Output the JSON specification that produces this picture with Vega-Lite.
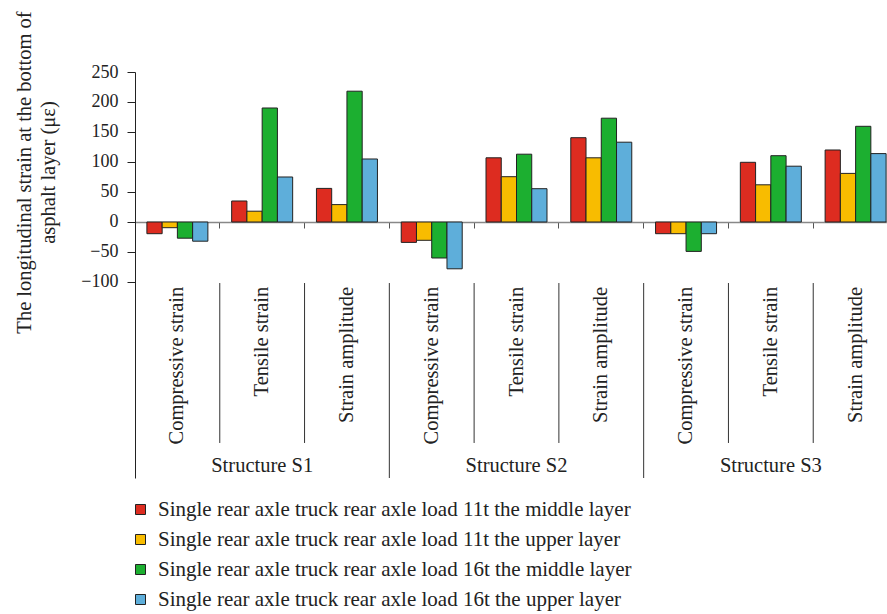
{
  "$schema": "https://vega.github.io/schema/vega-lite/v6.json",
  "autosize": {"type": "none"},
  "width": 752,
  "height": 406,
  "padding": {"left": 135, "top": 72, "right": 0, "bottom": 136},
  "config": {
    "view": {"stroke": null},
    "font": "Liberation Serif",
    "axis": {"grid": false}
  },
  "datasets": {
    "bars": [
      {"key": "S1|Compressive strain", "series": "Single rear axle truck rear axle load 11t the middle layer", "value": -19.5},
      {"key": "S1|Compressive strain", "series": "Single rear axle truck rear axle load 11t the upper layer", "value": -9.5},
      {"key": "S1|Compressive strain", "series": "Single rear axle truck rear axle load 16t the middle layer", "value": -27},
      {"key": "S1|Compressive strain", "series": "Single rear axle truck rear axle load 16t the upper layer", "value": -32},
      {"key": "S1|Tensile strain", "series": "Single rear axle truck rear axle load 11t the middle layer", "value": 35},
      {"key": "S1|Tensile strain", "series": "Single rear axle truck rear axle load 11t the upper layer", "value": 18},
      {"key": "S1|Tensile strain", "series": "Single rear axle truck rear axle load 16t the middle layer", "value": 190},
      {"key": "S1|Tensile strain", "series": "Single rear axle truck rear axle load 16t the upper layer", "value": 75},
      {"key": "S1|Strain amplitude", "series": "Single rear axle truck rear axle load 11t the middle layer", "value": 56},
      {"key": "S1|Strain amplitude", "series": "Single rear axle truck rear axle load 11t the upper layer", "value": 29},
      {"key": "S1|Strain amplitude", "series": "Single rear axle truck rear axle load 16t the middle layer", "value": 218},
      {"key": "S1|Strain amplitude", "series": "Single rear axle truck rear axle load 16t the upper layer", "value": 105},
      {"key": "S2|Compressive strain", "series": "Single rear axle truck rear axle load 11t the middle layer", "value": -34},
      {"key": "S2|Compressive strain", "series": "Single rear axle truck rear axle load 11t the upper layer", "value": -30.5},
      {"key": "S2|Compressive strain", "series": "Single rear axle truck rear axle load 16t the middle layer", "value": -60},
      {"key": "S2|Compressive strain", "series": "Single rear axle truck rear axle load 16t the upper layer", "value": -78},
      {"key": "S2|Tensile strain", "series": "Single rear axle truck rear axle load 11t the middle layer", "value": 107},
      {"key": "S2|Tensile strain", "series": "Single rear axle truck rear axle load 11t the upper layer", "value": 75.5},
      {"key": "S2|Tensile strain", "series": "Single rear axle truck rear axle load 16t the middle layer", "value": 113},
      {"key": "S2|Tensile strain", "series": "Single rear axle truck rear axle load 16t the upper layer", "value": 55.5},
      {"key": "S2|Strain amplitude", "series": "Single rear axle truck rear axle load 11t the middle layer", "value": 140.5},
      {"key": "S2|Strain amplitude", "series": "Single rear axle truck rear axle load 11t the upper layer", "value": 107},
      {"key": "S2|Strain amplitude", "series": "Single rear axle truck rear axle load 16t the middle layer", "value": 173},
      {"key": "S2|Strain amplitude", "series": "Single rear axle truck rear axle load 16t the upper layer", "value": 133},
      {"key": "S3|Compressive strain", "series": "Single rear axle truck rear axle load 11t the middle layer", "value": -19.5},
      {"key": "S3|Compressive strain", "series": "Single rear axle truck rear axle load 11t the upper layer", "value": -19.5},
      {"key": "S3|Compressive strain", "series": "Single rear axle truck rear axle load 16t the middle layer", "value": -49},
      {"key": "S3|Compressive strain", "series": "Single rear axle truck rear axle load 16t the upper layer", "value": -19.5},
      {"key": "S3|Tensile strain", "series": "Single rear axle truck rear axle load 11t the middle layer", "value": 99.5},
      {"key": "S3|Tensile strain", "series": "Single rear axle truck rear axle load 11t the upper layer", "value": 62},
      {"key": "S3|Tensile strain", "series": "Single rear axle truck rear axle load 16t the middle layer", "value": 110.5},
      {"key": "S3|Tensile strain", "series": "Single rear axle truck rear axle load 16t the upper layer", "value": 93},
      {"key": "S3|Strain amplitude", "series": "Single rear axle truck rear axle load 11t the middle layer", "value": 120},
      {"key": "S3|Strain amplitude", "series": "Single rear axle truck rear axle load 11t the upper layer", "value": 81},
      {"key": "S3|Strain amplitude", "series": "Single rear axle truck rear axle load 16t the middle layer", "value": 159.5},
      {"key": "S3|Strain amplitude", "series": "Single rear axle truck rear axle load 16t the upper layer", "value": 114}
    ],
    "cats": [
      {"key": "S1|Compressive strain", "category": "Compressive strain", "structure": "Structure S1"},
      {"key": "S1|Tensile strain", "category": "Tensile strain", "structure": "Structure S1"},
      {"key": "S1|Strain amplitude", "category": "Strain amplitude", "structure": "Structure S1"},
      {"key": "S2|Compressive strain", "category": "Compressive strain", "structure": "Structure S2"},
      {"key": "S2|Tensile strain", "category": "Tensile strain", "structure": "Structure S2"},
      {"key": "S2|Strain amplitude", "category": "Strain amplitude", "structure": "Structure S2"},
      {"key": "S3|Compressive strain", "category": "Compressive strain", "structure": "Structure S3"},
      {"key": "S3|Tensile strain", "category": "Tensile strain", "structure": "Structure S3"},
      {"key": "S3|Strain amplitude", "category": "Strain amplitude", "structure": "Structure S3"}
    ]
  },
  "layer": [
    {
      "data": {"name": "bars"},
      "mark": {"type": "bar", "stroke": "#222222", "strokeWidth": 1},
      "encoding": {
        "x": {
          "field": "key", "type": "nominal",
          "scale": {
            "domain": ["S1|Compressive strain", "S1|Tensile strain", "S1|Strain amplitude", "S2|Compressive strain", "S2|Tensile strain", "S2|Strain amplitude", "S3|Compressive strain", "S3|Tensile strain", "S3|Strain amplitude"],
            "range": [0, 763],
            "paddingInner": 0, "paddingOuter": 0
          },
          "axis": {
            "title": null, "labels": false, "orient": "bottom", "offset": -256,
            "bandPosition": 0, "tickSize": 6, "tickColor": "#555555", "domainColor": "#888888", "domainWidth": 1.5
          }
        },
        "xOffset": {
          "field": "series", "type": "nominal",
          "scale": {"paddingInner": 0, "paddingOuter": 0.78}
        },
        "y": {
          "field": "value", "type": "quantitative",
          "scale": {"domain": [-426.67, 250], "nice": false, "zero": false},
          "axis": {
            "values": [-100, -50, 0, 50, 100, 150, 200, 250],
            "title": ["The longitudinal strain at the bottom of", "asphalt layer (\u03bc\u03b5)"],
            "titleFont": "Liberation Serif", "titleFontSize": 20.5, "titleFontWeight": "normal",
            "titleColor": "#222222",
            "titleAngle": 270, "titleAlign": "center", "titleBaseline": "alphabetic",
            "titleX": -105, "titleY": 100, "titleLineHeight": 24,
            "labelFont": "Liberation Serif", "labelFontSize": 18, "labelColor": "#222222",
            "labelPadding": 9, "tickSize": 8, "tickColor": "#222222",
            "domainColor": "#222222", "domainWidth": 1
          }
        },
        "color": {
          "field": "series", "type": "nominal",
          "scale": {
            "domain": ["Single rear axle truck rear axle load 11t the middle layer", "Single rear axle truck rear axle load 11t the upper layer", "Single rear axle truck rear axle load 16t the middle layer", "Single rear axle truck rear axle load 16t the upper layer"],
            "range": ["#DD2C20", "#F8BC00", "#1CAF30", "#5EAEDA"]
          },
          "legend": {
            "title": null, "orient": "none", "legendX": -5, "legendY": 427,
            "padding": 0, "symbolType": "square", "symbolSize": 100,
            "symbolStrokeColor": "#222222", "symbolStrokeWidth": 1, "symbolOpacity": 1,
            "labelFont": "Liberation Serif", "labelFontSize": 21, "labelColor": "#222222",
            "labelOffset": 7, "rowPadding": 8, "labelLimit": 0
          }
        }
      }
    },
    {
      "data": {"name": "cats"},
      "mark": {"type": "text", "angle": 270, "align": "right", "baseline": "middle", "fontSize": 20.5, "color": "#222222", "font": "Liberation Serif"},
      "encoding": {
        "x": {"field": "key", "type": "nominal"},
        "y": {"datum": -108},
        "text": {"field": "category"}
      }
    },
    {
      "data": {"name": "cats"},
      "transform": [{"filter": "datum.category === 'Tensile strain'"}],
      "mark": {"type": "text", "align": "center", "baseline": "middle", "fontSize": 20.5, "color": "#222222", "font": "Liberation Serif"},
      "encoding": {
        "x": {"field": "key", "type": "nominal"},
        "y": {"datum": -406.7},
        "text": {"field": "structure"}
      }
    },
    {
      "data": {"name": "cats"},
      "transform": [{"filter": "datum.category !== 'Compressive strain'"}],
      "mark": {"type": "rule", "color": "#333333", "strokeWidth": 1},
      "encoding": {
        "x": {"field": "key", "type": "nominal", "bandPosition": 0},
        "y": {"datum": -101.7},
        "y2": {"datum": -368.3}
      }
    },
    {
      "data": {"name": "cats"},
      "transform": [{"filter": "datum.category === 'Compressive strain' && datum.structure !== 'Structure S1'"}],
      "mark": {"type": "rule", "color": "#333333", "strokeWidth": 1},
      "encoding": {
        "x": {"field": "key", "type": "nominal", "bandPosition": 0},
        "y": {"datum": -101.7},
        "y2": {"datum": -426.67}
      }
    }
  ]
}
